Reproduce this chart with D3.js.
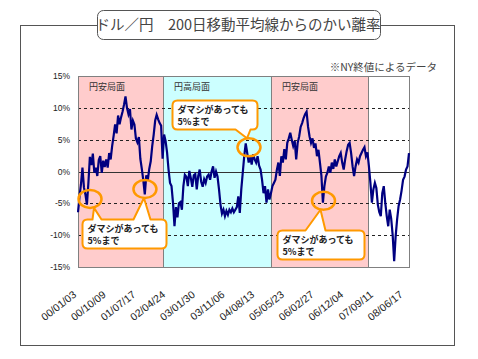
<!DOCTYPE html>
<html>
<head>
<meta charset="utf-8">
<script src="https://cdn.jsdelivr.net/npm/d3@7"></script>
<style>
  body { margin: 0; background: #fff; }
  text { font-family: "Noto Sans CJK JP", sans-serif; }
  .num { font-family: "Liberation Sans", Arial, sans-serif; }
</style>
</head>
<body>
<svg width="478" height="359"></svg>
<script>
// Data: deviation from 200-day moving average (%), one sample every 10 trading days
var deviation = [
  -6.4, -4.0, -2.0, 0.6, -2.5, -3.6, -5.2, -1.8, 2.3, 1.0,
  2.8, -0.2, 0.6, -0.7, 1.8, 2.4, -0.2, 1.7, 0.7, 1.9,
  0.6, 2.9, 1.9, 4.0, 5.6, 7.4, 6.0, 8.8, 7.4, 8.5,
  9.4, 10.5, 11.8, 10.0, 9.0, 9.8, 6.6, 8.0, 7.4, 5.2,
  4.6, 5.4, 2.0, 0.4, -1.4, -3.6, -0.6, -1.4, 0.4, 1.6,
  4.0, 5.8, 8.0, 8.9, 8.2, 7.6, 7.2, 2.0, 5.8, 4.8,
  3.0, 0.3, -1.8, -2.3, -4.9, -8.6, -5.6, -7.2, -5.0, -4.8,
  -6.0, -2.3, -0.5, -0.8, -2.3, 0.1, -1.0, -2.4, -0.6, -0.4,
  -2.8, -0.7, 0.3, -1.6, -2.4, -1.2, -1.8, -0.8, -0.5, -1.3,
  0.0, 0.8, -1.0, 0.0, -0.8, -2.8, -5.2, -6.6, -6.0, -7.0,
  -6.2, -6.8, -6.0, -6.4, -5.8, -6.4, -6.0, -5.6, -3.9, -6.5,
  -2.8, -0.2, 2.4, 4.4, 2.9, 1.4, 2.4, 1.1, 2.7, 1.9,
  1.4, 2.4, 0.9, 0.3, -1.3, -3.4, -2.3, -4.9, -2.8, -4.4,
  -3.4, -2.3, -1.8, -1.3, 0.3, 1.4, -0.7, 2.4, 1.4, 3.5,
  1.9, 4.5, 5.2, 6.1, 5.0, 4.0, 4.8, 1.9, 4.5, 5.5,
  7.0, 7.6, 8.4, 9.0, 9.4, 7.0, 5.5, 4.5, 5.2, 3.7,
  4.4, 2.4, 3.4, 1.4, -0.7, -4.9, -2.3, -0.8, -0.2, 0.8,
  -0.2, 1.4, 0.4, 1.9, 0.8, 1.6, 2.4, 2.9, 1.4, 0.3,
  1.9, 3.2, 4.2, 4.5, 2.9, 0.8, -0.7, 0.8, 1.9, 1.4,
  2.4, 2.9, 3.4, 3.8, 2.4, 3.0, 0.8, -1.8, -4.9, -2.8,
  -1.8, -2.6, -5.2, -6.4, -7.0, -3.4, -2.3, -4.9, -7.0, -8.6,
  -6.0, -7.4, -10.0, -14.1, -10.2, -7.5, -5.4, -4.4, -3.0, -1.3,
  -0.8, 0.3, 0.8, 2.9
];

// category labels, one every 20 samples (200 trading days)
var tickLabels = ["00/01/03", "00/10/09", "01/07/17", "02/04/24", "03/01/30", "03/11/06",
  "04/08/13", "05/05/23", "06/02/27", "06/12/04", "07/09/11", "08/06/17"];
var tickEvery = 20;

var yTicks = [15, 10, 5, 0, -5, -10, -15];

// phases (sample index)
var phaseLabels = ["円安局面", "円高局面", "円安局面", ""];
var phaseFrom = [0, 57.3, 130.0, 195.4];
var phaseTo = [57.3, 130.0, 195.4, 223];
var phaseColors = ["#ffcccc", "#ccffff", "#ffcccc", "#ffffff"];

// marked points (index, value)
var markIdx = [8.1, 45.1, 115.2, 165.4];
var markVal = [-4.3, -2.75, 3.8, -4.6];

var calloutText = ["ダマシがあっても", "5%まで"];

var title = "ドル／円　200日移動平均線からのかい離率";
var note = "※NY終値によるデータ";

var svg = d3.select("svg");

var x = d3.scaleLinear().domain([0, deviation.length - 1]).range([78, 409]);
var y = d3.scaleLinear().domain([-15, 15]).range([267, 76]);

// outer frame
svg.append("rect")
  .attr("x", 20.5).attr("y", 25.5)
  .attr("width", 434).attr("height", 320)
  .attr("fill", "#fff").attr("stroke", "#555");

// title box
svg.append("rect")
  .attr("x", 97.5).attr("y", 10.5)
  .attr("width", 283).attr("height", 29)
  .attr("rx", 6)
  .attr("fill", "#fff").attr("stroke", "#555");
svg.append("text")
  .attr("x", 238).attr("y", 30)
  .attr("text-anchor", "middle")
  .attr("font-size", 14.5)
  .attr("fill", "#444")
  .text(title);

svg.append("text")
  .attr("x", 437).attr("y", 71)
  .attr("text-anchor", "end")
  .attr("font-size", 10.5)
  .attr("fill", "#444")
  .text(note);

// phase backgrounds
var g = svg.append("g");
phaseFrom.forEach(function (f, i) {
  g.append("rect")
    .attr("x", x(f)).attr("y", y(15))
    .attr("width", x(phaseTo[i]) - x(f))
    .attr("height", y(-15) - y(15))
    .attr("fill", phaseColors[i]);
  g.append("text")
    .attr("x", x(f) + 11).attr("y", y(15) + 14)
    .attr("font-size", 9)
    .attr("fill", "#333")
    .text(phaseLabels[i]);
});
phaseFrom.slice(1).forEach(function (f) {
  g.append("line")
    .attr("x1", Math.round(x(f)) + 0.5).attr("x2", Math.round(x(f)) + 0.5)
    .attr("y1", y(15)).attr("y2", y(-15))
    .attr("stroke", "#808080");
});

// grid
g.selectAll(".grid")
  .data(yTicks.filter(function (d) { return d !== 15 && d !== -15; }))
  .enter().append("line")
  .attr("x1", x(0)).attr("x2", x(deviation.length - 1))
  .attr("y1", function (d) { return Math.round(y(d)) + 0.5; })
  .attr("y2", function (d) { return Math.round(y(d)) + 0.5; })
  .attr("stroke", function (d) { return d === 0 ? "#333" : "#222"; })
  .attr("stroke-dasharray", function (d) { return d === 0 ? null : "3,3"; });

// plot border
g.append("rect")
  .attr("x", x(0) + 0.5).attr("y", y(15) + 0.5)
  .attr("width", x(deviation.length - 1) - x(0))
  .attr("height", y(-15) - y(15))
  .attr("fill", "none").attr("stroke", "#808080");

// y labels
svg.selectAll(".ylab")
  .data(yTicks)
  .enter().append("text")
  .attr("class", "num")
  .attr("x", 70)
  .attr("y", function (d) { return y(d) + 3; })
  .attr("text-anchor", "end")
  .attr("font-size", 8.5)
  .attr("fill", "#222")
  .text(function (d) { return d + "%"; });

// x labels
svg.selectAll(".xlab")
  .data(tickLabels)
  .enter().append("text")
  .attr("class", "num")
  .attr("text-anchor", "end")
  .attr("font-size", 10.5)
  .attr("fill", "#222")
  .attr("transform", function (d, i) {
    return "translate(" + (x(i * tickEvery) - 1) + ",296) rotate(-38)";
  })
  .text(function (d) { return d; });

// series line
var line = d3.line()
  .x(function (d, i) { return x(i); })
  .y(function (d) { return y(d); });

svg.append("path")
  .datum(deviation)
  .attr("d", line)
  .attr("fill", "none")
  .attr("stroke", "#000080")
  .attr("stroke-width", 2.2)
  .attr("stroke-linejoin", "miter");

// callouts
var orange = "#ff9900";
var rx = 11.5, ry = 9;

markIdx.forEach(function (m, i) {
  svg.append("ellipse")
    .attr("cx", x(m)).attr("cy", y(markVal[i]))
    .attr("rx", rx).attr("ry", ry)
    .attr("fill", "none")
    .attr("stroke", orange)
    .attr("stroke-width", 2.5);
});

function calloutPath(bx, by, w, h, r, tails) {
  var p = "M" + (bx + r) + "," + by;
  tails.filter(function (t) { return t.side === "top"; })
    .forEach(function (t) {
      p += "L" + t.b0 + "," + by + "L" + t.tx + "," + t.ty + "L" + t.b1 + "," + by;
    });
  p += "L" + (bx + w - r) + "," + by;
  p += "Q" + (bx + w) + "," + by + " " + (bx + w) + "," + (by + r);
  p += "L" + (bx + w) + "," + (by + h - r);
  p += "Q" + (bx + w) + "," + (by + h) + " " + (bx + w - r) + "," + (by + h);
  tails.filter(function (t) { return t.side === "bottom"; })
    .forEach(function (t) {
      p += "L" + t.b1 + "," + (by + h) + "L" + t.tx + "," + t.ty + "L" + t.b0 + "," + (by + h);
    });
  p += "L" + (bx + r) + "," + (by + h);
  p += "Q" + bx + "," + (by + h) + " " + bx + "," + (by + h - r);
  p += "L" + bx + "," + (by + r);
  p += "Q" + bx + "," + by + " " + (bx + r) + "," + by + "Z";
  return p;
}

// box anchors in data units, tails point at the marked ellipses
var boxes = [
  { idx: 2.7, val: -7.45, w: 84, marks: [0, 1], side: "top", bases: [[10, 19], [51, 68]], dx: [4, -1] },
  { idx: 63.3, val: 11.3, w: 85, marks: [2], side: "bottom", bases: [[63, 78]], dx: [-2] },
  { idx: 134.1, val: -9.2, w: 87, marks: [3], side: "top", bases: [[28, 48]], dx: [-3] }
];

boxes.forEach(function (b) {
  var bx = Math.round(x(b.idx)) + 0.5, by = Math.round(y(b.val)) + 0.5, h = 29;
  var tails = b.marks.map(function (m, k) {
    var cx = x(markIdx[m]), cy = y(markVal[m]);
    return {
      side: b.side,
      b0: bx + b.bases[k][0], b1: bx + b.bases[k][1],
      tx: cx + b.dx[k], ty: b.side === "top" ? cy + ry : cy - ry
    };
  });
  svg.append("path")
    .attr("d", calloutPath(bx, by, b.w, h, 5, tails))
    .attr("fill", "#fff")
    .attr("stroke", orange)
    .attr("stroke-width", 2)
    .attr("stroke-linejoin", "round");
  calloutText.forEach(function (t, k) {
    svg.append("text")
      .attr("x", bx + 5).attr("y", by + 12 + k * 12)
      .attr("font-size", 9)
      .attr("font-weight", "bold")
      .attr("fill", "#222")
      .text(t);
  });
});
</script>
</body>
</html>
